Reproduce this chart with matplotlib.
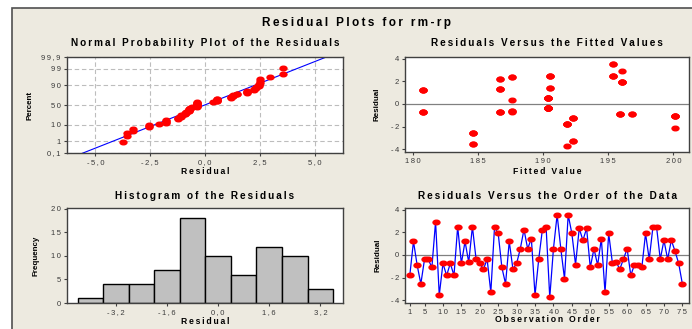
import numpy as np
import matplotlib
matplotlib.use("Agg")
import matplotlib.pyplot as plt
from matplotlib.path import Path
from matplotlib.patches import Rectangle
from matplotlib.ticker import FuncFormatter
from statistics import NormalDist

# residuals in observation order, with the fitted value of each observation
residuals = [-1.8, 1.2, -0.9, -2.55, -0.38, -0.38, -1.1, 2.95, -3.55, -0.75,
             -1.8, -0.75, -1.8, 2.5, -0.75, 1.2, -0.65, 2.5, -0.38, -0.75,
             -1.25, -0.38, -3.3, 2.45, 1.9, -1.1, -2.55, 1.2, -1.25, -0.75,
             0.55, 2.25, 0.55, 1.45, -3.55, -0.38, 2.25, 2.5, -3.75, 0.55,
             3.55, 0.55, -2.1, 3.55, 1.9, -0.85, 2.35, 1.3, 2.35, -1.1,
             0.55, -0.9, 1.45, -3.3, 1.9, -0.7, -0.6, -1.25, -0.38, 0.55,
             -1.8, -0.85, -0.9, -1.1, 1.9, -0.38, 2.45, 2.45, -0.38, 1.3,
             -0.38, 1.3, 0.35, -0.75, -2.55]
fitted = [191.8, 180.8, 195.9, 184.6, 190.4, 190.4, 200.1, 196.05, 184.6, 180.8,
          191.8, 186.7, 191.8, 195.4, 180.8, 180.8, 187.6, 195.4, 190.4, 186.7,
          192.3, 190.4, 192.3, 190.5, 196.05, 200.1, 184.6, 180.8, 192.3, 180.8,
          190.4, 186.7, 190.4, 190.5, 184.6, 190.4, 186.7, 195.4, 191.8, 190.4,
          195.4, 190.4, 200.1, 195.4, 196.05, 196.8, 187.6, 186.7, 187.6, 200.1,
          190.4, 195.9, 190.5, 192.3, 196.05, 187.6, 187.6, 192.3, 190.4, 190.4,
          191.8, 196.8, 195.9, 200.1, 196.05, 190.4, 190.5, 190.5, 190.4, 186.7,
          190.4, 186.7, 187.6, 186.7, 184.6]

prob_ticks = [0.1, 1, 10, 50, 90, 99, 99.9]
prob_labels = ["0,1", "1", "10", "50", "90", "99", "99,9"]
hist_edges = [-4.4, -3.6, -2.8, -2.0, -1.2, -0.4, 0.4, 1.2, 2.0, 2.8, 3.6]
order_ticks = [1, 5, 10, 15, 20, 25, 30, 35, 40, 45, 50, 55, 60, 65, 70, 75]

plt.rcParams['font.family'] = ['Liberation Sans', 'DejaVu Sans']

W, H = 692, 329
BG = '#EDEAE0'
TXT = '#3A3A3A'
ND = NormalDist()


def spaced(s):
    # wide letter spacing, as the old stats package draws its text
    return '\u2009'.join(s)


def comma(v, nd=1):
    return spaced(f"{v:.{nd}f}".replace('.', ','))


def fy(px):
    return 1 - px / H


def style(ax):
    ax.set_facecolor('white')
    for sp in ax.spines.values():
        sp.set_color('#404040')
        sp.set_linewidth(1.0)
    ax.tick_params(length=2.5, width=0.8, direction='out', labelsize=5.5,
                   labelcolor=TXT, color='#404040', pad=2)


circ = Path.unit_circle()
dot = Path(circ.vertices * [1.0, 0.66], circ.codes)
MS = 5.0

fig = plt.figure(figsize=(W / 100, H / 100), dpi=100)
fig.patch.set_facecolor('white')
fig.patches.append(Rectangle((12 / W, -0.05), 1.0, fy(8) + 0.05,
                             transform=fig.transFigure, facecolor=BG,
                             edgecolor='#505050', linewidth=1.2, zorder=-1))

fig.text(357 / W, fy(23), spaced("Residual Plots for rm-rp"), ha='center',
         va='center', fontsize=8.5, fontweight='bold')

L1, R1 = 67 / W, 343 / W
L2, R2 = 405 / W, 689 / W
ax_np = fig.add_axes([L1, fy(153), R1 - L1, fy(57) - fy(153)])
ax_fv = fig.add_axes([L2, fy(152), R2 - L2, fy(57) - fy(152)])
ax_hi = fig.add_axes([L1, fy(303), R1 - L1, fy(208) - fy(303)])
ax_or = fig.add_axes([L2, fy(303), R2 - L2, fy(208) - fy(303)])
for ax in (ax_np, ax_fv, ax_hi, ax_or):
    style(ax)

titles = [(ax_np, "Normal Probability Plot of the Residuals", 43),
          (ax_fv, "Residuals Versus the Fitted Values", 43),
          (ax_hi, "Histogram of the Residuals", 196),
          (ax_or, "Residuals Versus the Order of the Data", 196)]
for ax, t, y in titles:
    x0, _, w, _ = ax.get_position().bounds
    fig.text(x0 + w / 2, fy(y), spaced(t), ha='center', va='center',
             fontsize=7.2, fontweight='bold')

xlabels = [(ax_np, "Residual", 171), (ax_fv, "Fitted Value", 171),
           (ax_hi, "Residual", 322), (ax_or, "Observation Order", 320)]
for ax, t, y in xlabels:
    x0, _, w, _ = ax.get_position().bounds
    fig.text(x0 + w / 2, fy(y), spaced(t), ha='center', va='center',
             fontsize=6.2, fontweight='bold')

ylabels = [(ax_np, "Percent", 30), (ax_fv, "Residual", 377),
           (ax_hi, "Frequency", 36), (ax_or, "Residual", 378)]
for ax, t, x in ylabels:
    _, y0, _, h = ax.get_position().bounds
    fig.text(x / W, y0 + h / 2, t, ha='center', va='center', rotation=90,
             fontsize=5.8, fontweight='bold')

res = np.array(residuals)
n = len(res)

# normal probability plot (median ranks)
srt = np.sort(res)
pct = (np.arange(1, n + 1) - 0.3) / (n + 0.4)
z = np.array([ND.inv_cdf(p) for p in pct])
mu, sd = res.mean(), res.std(ddof=1)
zz = np.linspace(-4, 4, 50)
ax_np.plot(mu + sd * zz, zz, color='#0000FF', lw=0.8, zorder=2)
ax_np.plot(srt, z, ls='none', marker=dot, ms=MS, color='#FF0000',
           mec='#FF0000', zorder=3)
zmin, zmax = ND.inv_cdf(0.001), ND.inv_cdf(0.999)
ax_np.set_ylim(zmin, zmax)
ax_np.set_xlim(-6.3, 6.3)
ax_np.set_yticks([ND.inv_cdf(p / 100) for p in prob_ticks])
ax_np.set_yticklabels([spaced(s) for s in prob_labels])
ax_np.set_xticks([-5, -2.5, 0, 2.5, 5])
ax_np.xaxis.set_major_formatter(FuncFormatter(lambda v, p: comma(v)))
ax_np.grid(True, color='#BDBDBD', ls=(0, (4, 2.5)), lw=0.8)
ax_np.set_axisbelow(True)

# residuals versus fits
ax_fv.axhline(0, color='#808080', lw=0.9, zorder=1)
ax_fv.plot(fitted, residuals, ls='none', marker=dot, ms=MS, color='#FF0000',
           mec='#FF0000', zorder=3)
ax_fv.set_xlim(179.4, 201.2)
ax_fv.set_ylim(-4.24, 4.15)
ax_fv.set_xticks([180, 185, 190, 195, 200])
ax_fv.set_yticks([-4, -2, 0, 2, 4])
ax_fv.xaxis.set_major_formatter(FuncFormatter(lambda v, p: spaced(f"{v:.0f}")))
ax_fv.yaxis.set_major_formatter(FuncFormatter(lambda v, p: spaced(f"{v:.0f}")))

# histogram
ax_hi.hist(res, bins=hist_edges, color='#C0C0C0', edgecolor='black', lw=1.0)
ax_hi.set_xlim(-4.73, 3.91)
ax_hi.set_ylim(0, 20.2)
ax_hi.set_xticks([-3.2, -1.6, 0, 1.6, 3.2])
ax_hi.set_yticks([0, 5, 10, 15, 20])
ax_hi.xaxis.set_major_formatter(FuncFormatter(lambda v, p: comma(v)))
ax_hi.yaxis.set_major_formatter(FuncFormatter(lambda v, p: spaced(f"{v:.0f}")))

# residuals versus order
obs = np.arange(1, n + 1)
ax_or.axhline(0, color='#808080', lw=0.9, zorder=1)
ax_or.plot(obs, res, color='#0000FF', lw=0.9, zorder=2)
ax_or.plot(obs, res, ls='none', marker=dot, ms=MS, color='#FF0000',
           mec='#FF0000', zorder=3)
ax_or.set_xlim(-0.3, 76.8)
ax_or.set_ylim(-4.24, 4.15)
ax_or.set_xticks(order_ticks)
ax_or.set_yticks([-4, -2, 0, 2, 4])
ax_or.xaxis.set_major_formatter(FuncFormatter(lambda v, p: spaced(f"{v:.0f}")))
ax_or.yaxis.set_major_formatter(FuncFormatter(lambda v, p: spaced(f"{v:.0f}")))

fig.savefig("out.png", dpi=100, facecolor=fig.get_facecolor())
